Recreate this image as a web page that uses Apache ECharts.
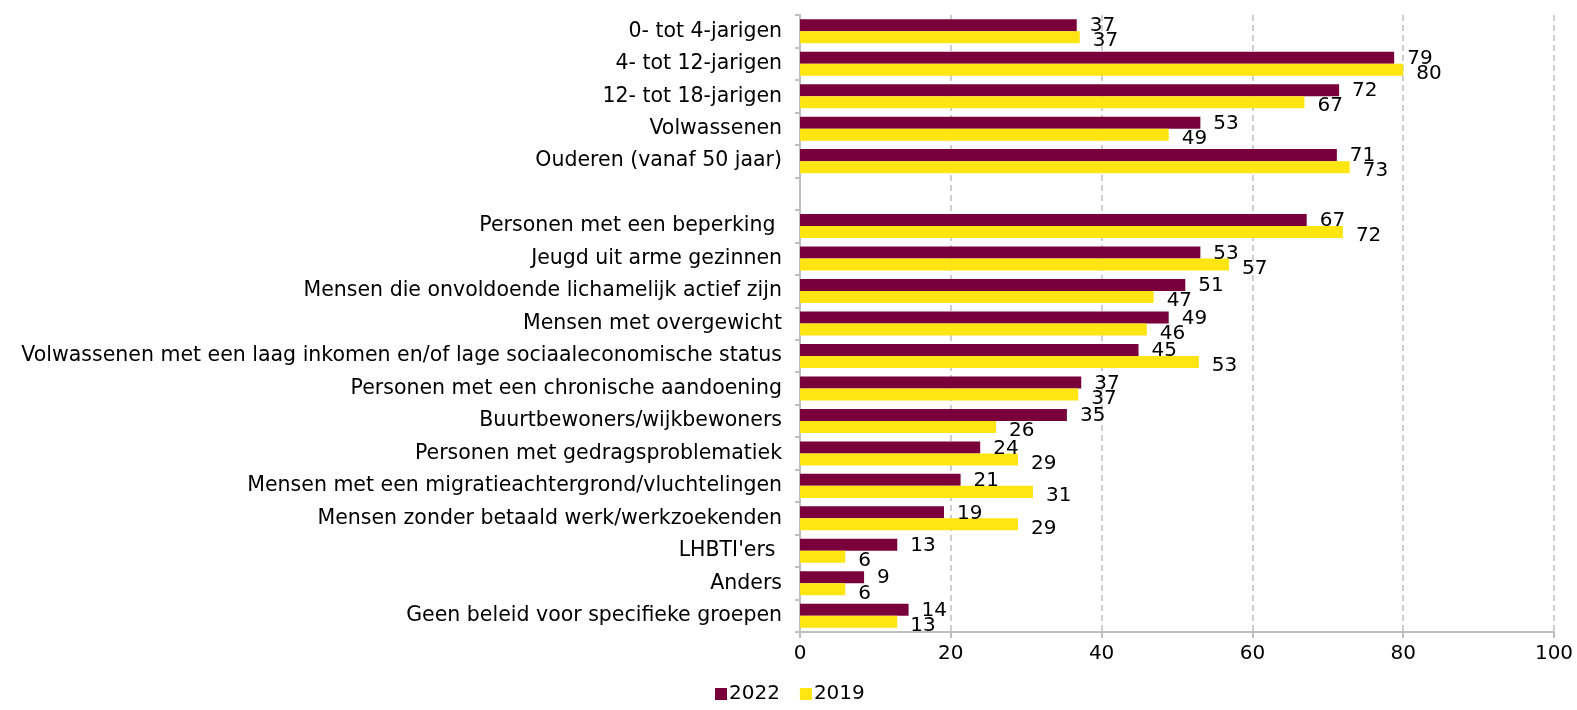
<!DOCTYPE html>
<html>
<head>
<meta charset="utf-8">
<script src="https://cdn.jsdelivr.net/npm/echarts@6/dist/echarts.min.js"></script>
<style>
  html, body { margin: 0; padding: 0; background: #fff; }
  #chart { width: 1577px; height: 710px; }
</style>
</head>
<body>
<div id="chart"></div>
<script>
// doelgroepen (top to bottom), empty entry is the gap row
var categories = [
  "0- tot 4-jarigen",
  "4- tot 12-jarigen",
  "12- tot 18-jarigen",
  "Volwassenen",
  "Ouderen (vanaf 50 jaar)",
  "",
  "Personen met een beperking ",
  "Jeugd uit arme gezinnen",
  "Mensen die onvoldoende lichamelijk actief zijn",
  "Mensen met overgewicht",
  "Volwassenen met een laag inkomen en/of lage sociaaleconomische status",
  "Personen met een chronische aandoening",
  "Buurtbewoners/wijkbewoners",
  "Personen met gedragsproblematiek",
  "Mensen met een migratieachtergrond/vluchtelingen",
  "Mensen zonder betaald werk/werkzoekenden",
  "LHBTI'ers ",
  "Anders",
  "Geen beleid voor specifieke groepen"
];
var values2022 = [36.7, 78.8, 71.5, 53.1, 71.2, null, 67.2, 53.1, 51.1, 48.9, 44.9, 37.3, 35.4, 23.9, 21.3, 19.1, 12.9, 8.5, 14.4];
var values2019 = [37.1, 80.0, 66.9, 48.9, 72.9, null, 72.0, 56.9, 46.9, 46.0, 52.9, 36.9, 26.0, 28.9, 30.9, 28.9, 6.0, 6.0, 12.9];
var xTicks = [0, 20, 40, 60, 80, 100];

var font = "DejaVu Sans";

var myChart = echarts.init(document.getElementById("chart"));

function valueLabel(dy) {
  return {
    show: true,
    position: "right",
    distance: 13,
    offset: [0, dy],
    color: "#000",
    fontFamily: font,
    fontSize: 20,
    formatter: function (p) {
      return p.value == null ? "" : Math.round(p.value);
    }
  };
}

var option = {
  animation: false,
  color: ["#7A003C", "#FFE512"],
  textStyle: { fontFamily: font },
  grid: {
    left: 800,
    right: 23,
    top: 15,
    bottom: 78
  },
  legend: {
    left: 710,
    bottom: 1,
    itemWidth: 12,
    itemHeight: 12,
    itemGap: 20,
    icon: "rect",
    textStyle: { fontFamily: font, fontSize: 20, color: "#000", padding: [0, 0, 0, -3] },
    data: ["2022", "2019"]
  },
  xAxis: {
    type: "value",
    min: xTicks[0],
    max: xTicks[xTicks.length - 1],
    interval: 20,
    axisLine: { show: true, lineStyle: { color: "#BFBFBF", width: 2 } },
    axisTick: { show: true, length: 6, lineStyle: { color: "#BFBFBF", width: 2 } },
    axisLabel: { color: "#000", fontSize: 20, fontFamily: font, margin: 12 },
    splitLine: { show: true, lineStyle: { color: "#BFBFBF", type: [6, 4], width: 1.5 } }
  },
  yAxis: {
    type: "category",
    inverse: true,
    data: categories,
    axisLine: { show: true, lineStyle: { color: "#BFBFBF", width: 2 } },
    axisTick: { show: true, length: 5, lineStyle: { color: "#BFBFBF", width: 2 } },
    axisLabel: { color: "#000", fontSize: 20.5, fontFamily: font, margin: 18 }
  },
  series: [
    {
      name: "2022",
      type: "bar",
      barGap: "0%",
      barCategoryGap: "26%",
      label: valueLabel(1),
      data: values2022
    },
    {
      name: "2019",
      type: "bar",
      label: valueLabel(4),
      data: values2019
    }
  ]
};

myChart.setOption(option);
</script>
</body>
</html>
